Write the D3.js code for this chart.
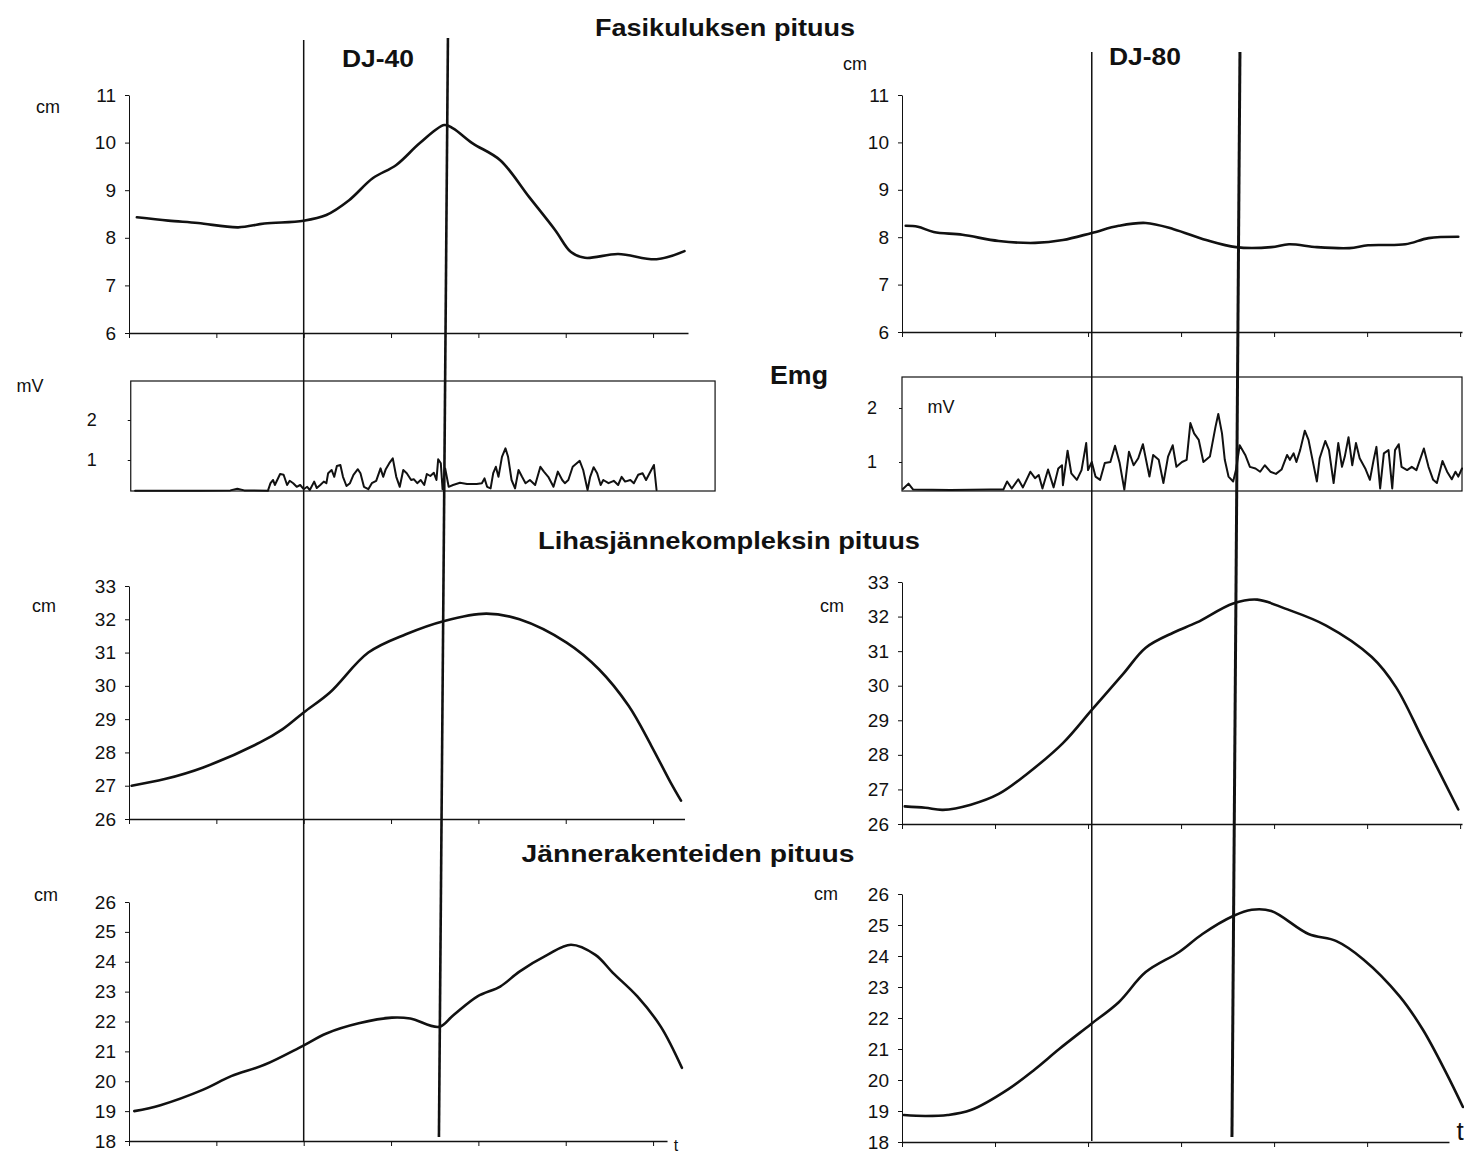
<!DOCTYPE html>
<html><head><meta charset="utf-8">
<script src="https://cdn.jsdelivr.net/npm/d3@7"></script>
<style>
body{margin:0;background:#fff}
svg{display:block;font-family:"Liberation Sans",Arial,sans-serif}
</style></head><body>
<svg id="c" width="1464" height="1153"></svg>
<script>
// ---------- data (time in tick units, lengths in cm, EMG in mV) ----------
const xTicks = [0, 1, 2, 3, 4, 5, 6];
const fasTicks = [6, 7, 8, 9, 10, 11];
const mtcTicks = [26, 27, 28, 29, 30, 31, 32, 33];
const tenTicks = [18, 19, 20, 21, 22, 23, 24, 25, 26];
const emgTicks = [1, 2];

const events40 = [2.0, 3.6];
const events80 = [2.04, 3.59];

const fas40 = [[0.09,8.43],[0.45,8.36],[0.79,8.31],[1.25,8.22],[1.55,8.30],[2.0,8.36],[2.26,8.48],[2.52,8.79],[2.79,9.25],[3.06,9.53],[3.33,9.99],[3.61,10.37],[3.71,10.30],[3.93,9.99],[4.25,9.63],[4.58,8.86],[4.88,8.16],[5.06,7.70],[5.22,7.58],[5.6,7.66],[6.04,7.55],[6.36,7.72]];
const fas80 = [[0.04,8.24],[0.17,8.22],[0.34,8.11],[0.65,8.05],[1.04,7.92],[1.43,7.88],[1.73,7.94],[2.04,8.09],[2.33,8.24],[2.62,8.30],[2.92,8.17],[3.27,7.94],[3.59,7.79],[3.97,7.79],[4.16,7.85],[4.46,7.79],[4.81,7.77],[5.01,7.83],[5.41,7.85],[5.66,7.98],[5.98,8.01]];

const mtc40 = [[0.03,27.0],[0.41,27.2],[0.85,27.55],[1.50,28.3],[1.76,28.7],[2.0,29.2],[2.30,29.8],[2.74,31.0],[3.17,31.55],[3.61,31.95],[4.09,32.17],[4.47,32.0],[5.01,31.3],[5.38,30.5],[5.72,29.4],[5.98,28.2],[6.20,27.1],[6.32,26.55]];
const mtc80 = [[0.03,26.51],[0.25,26.47],[0.44,26.41],[0.74,26.56],[1.04,26.87],[1.33,27.42],[1.73,28.34],[2.04,29.3],[2.38,30.35],[2.62,31.1],[2.92,31.54],[3.17,31.83],[3.56,32.38],[3.82,32.49],[4.12,32.23],[4.56,31.74],[5.05,30.83],[5.31,29.96],[5.60,28.44],[5.98,26.42]];

const ten40 = [[0.06,19.0],[0.36,19.2],[0.85,19.72],[1.17,20.17],[1.55,20.55],[1.98,21.17],[2.26,21.6],[2.63,21.94],[3.01,22.13],[3.22,22.1],[3.55,21.82],[3.71,22.2],[3.99,22.84],[4.25,23.17],[4.47,23.67],[4.79,24.23],[5.06,24.57],[5.34,24.23],[5.54,23.63],[5.82,22.84],[6.09,21.82],[6.33,20.45]];
const ten80 = [[0.02,18.87],[0.25,18.84],[0.49,18.87],[0.74,19.03],[1.14,19.7],[1.43,20.35],[1.69,21.0],[2.03,21.8],[2.33,22.51],[2.62,23.48],[2.98,24.13],[3.23,24.71],[3.56,25.29],[3.76,25.49],[3.97,25.45],[4.37,24.71],[4.67,24.48],[4.96,23.89],[5.35,22.7],[5.60,21.62],[5.85,20.23],[6.03,19.13]];

const emg40 = [[0.07,0.23],[0.81,0.23],[1.16,0.24],[1.24,0.28],[1.32,0.24],[1.59,0.23],[1.62,0.42],[1.65,0.50],[1.67,0.375],[1.73,0.65],[1.77,0.63],[1.81,0.375],[1.84,0.48],[1.88,0.42],[1.92,0.33],[1.96,0.375],[2.00,0.27],[2.04,0.33],[2.07,0.25],[2.12,0.46],[2.15,0.30],[2.19,0.375],[2.23,0.46],[2.26,0.42],[2.28,0.67],[2.32,0.75],[2.35,0.58],[2.38,0.85],[2.42,0.875],[2.45,0.58],[2.49,0.35],[2.53,0.42],[2.57,0.63],[2.62,0.77],[2.65,0.67],[2.69,0.33],[2.74,0.27],[2.78,0.42],[2.83,0.48],[2.88,0.79],[2.91,0.58],[2.94,0.77],[2.98,0.92],[3.02,1.04],[3.06,0.58],[3.10,0.33],[3.14,0.75],[3.18,0.67],[3.23,0.50],[3.26,0.52],[3.30,0.42],[3.34,0.50],[3.38,0.375],[3.41,0.65],[3.45,0.60],[3.49,0.68],[3.52,0.50],[3.54,1.02],[3.57,0.92],[3.59,0.27],[3.62,0.79],[3.66,0.33],[3.71,0.375],[3.79,0.43],[3.87,0.40],[3.98,0.40],[4.04,0.42],[4.07,0.54],[4.10,0.33],[4.14,0.29],[4.17,0.67],[4.20,0.83],[4.23,0.58],[4.27,1.08],[4.31,1.29],[4.34,1.08],[4.38,0.50],[4.42,0.29],[4.46,0.75],[4.50,0.58],[4.54,0.42],[4.59,0.50],[4.65,0.375],[4.71,0.83],[4.75,0.71],[4.80,0.58],[4.86,0.33],[4.91,0.71],[4.96,0.50],[4.99,0.42],[5.03,0.50],[5.08,0.83],[5.16,0.98],[5.20,0.75],[5.25,0.25],[5.28,0.58],[5.32,0.82],[5.36,0.67],[5.40,0.375],[5.43,0.50],[5.49,0.42],[5.55,0.48],[5.60,0.375],[5.64,0.58],[5.68,0.46],[5.74,0.50],[5.78,0.42],[5.83,0.63],[5.88,0.67],[5.92,0.50],[5.96,0.67],[6.01,0.875],[6.04,0.25]];
const emg80 = [[0.01,0.50],[0.07,0.60],[0.12,0.49],[0.52,0.48],[0.95,0.49],[1.09,0.49],[1.13,0.64],[1.18,0.51],[1.25,0.68],[1.30,0.53],[1.38,0.82],[1.43,0.70],[1.47,0.76],[1.51,0.51],[1.57,0.86],[1.63,0.53],[1.68,0.88],[1.72,0.94],[1.73,0.57],[1.78,1.21],[1.82,0.79],[1.88,0.67],[1.93,0.85],[1.98,1.35],[2.00,0.85],[2.04,1.0],[2.08,0.73],[2.13,0.67],[2.18,0.98],[2.24,1.0],[2.29,1.30],[2.34,0.98],[2.39,0.49],[2.44,1.19],[2.49,0.94],[2.54,1.07],[2.59,1.33],[2.66,0.73],[2.70,1.13],[2.76,1.04],[2.81,0.61],[2.86,1.10],[2.91,1.31],[2.95,0.91],[3.01,1.0],[3.06,1.04],[3.10,1.72],[3.14,1.53],[3.19,1.41],[3.24,1.0],[3.31,1.10],[3.37,1.65],[3.40,1.89],[3.44,1.53],[3.47,1.04],[3.51,0.73],[3.56,0.64],[3.59,0.85],[3.63,1.31],[3.69,1.13],[3.74,0.91],[3.80,0.88],[3.85,0.82],[3.90,0.94],[3.96,0.82],[4.02,0.78],[4.08,0.86],[4.14,1.13],[4.17,1.04],[4.21,1.16],[4.24,1.0],[4.28,1.22],[4.33,1.58],[4.37,1.41],[4.42,0.98],[4.46,0.64],[4.49,1.07],[4.55,1.39],[4.59,1.22],[4.64,0.61],[4.69,1.35],[4.73,0.91],[4.76,1.10],[4.80,1.46],[4.84,0.94],[4.88,1.35],[4.92,1.07],[4.98,0.88],[5.03,0.67],[5.07,1.04],[5.10,1.28],[5.14,0.51],[5.18,1.16],[5.23,1.22],[5.27,0.51],[5.30,1.22],[5.34,1.33],[5.37,0.91],[5.43,0.85],[5.48,0.91],[5.53,0.85],[5.61,1.25],[5.66,0.91],[5.71,0.67],[5.75,0.61],[5.81,1.02],[5.86,0.82],[5.91,0.68],[5.95,0.82],[5.98,0.73],[6.02,0.88]];

const emgWindow40 = [0.02, 6.71];
const emgWindow80 = [0, 6.02];

// ---------- drawing ----------
const svg = d3.select("#c");
const INK = "#111";
const xL = d3.scaleLinear().domain([0, 6.4]).range([129, 688]);
const xR = d3.scaleLinear().domain([0, 6.02]).range([902, 1462]);

function xAxis(xs, end, y) {
  const s = xs.copy().domain([0, end]).range([xs(0), xs(end)]);
  const g = svg.append("g").attr("transform", `translate(0,${y})`)
    .call(d3.axisBottom(s).tickValues(xTicks.filter(t => t <= end + 1e-6)).tickSize(5).tickSizeOuter(0).tickFormat(""));
  g.select(".domain").attr("stroke", INK).attr("stroke-width", 1.6);
  g.selectAll(".tick line").attr("stroke", INK);
}
function yAxis(x, ys, ticks, pad, fs) {
  const g = svg.append("g").attr("transform", `translate(${x},0)`)
    .call(d3.axisLeft(ys).tickValues(ticks).tickSize(4).tickSizeOuter(0).tickPadding(pad).tickFormat(d3.format("d")));
  g.select(".domain").attr("stroke", INK).attr("stroke-width", 1);
  g.selectAll(".tick line").attr("stroke", INK);
  g.selectAll("text").attr("font-size", fs).attr("fill", INK)
    .attr("font-family", '"Liberation Sans", Arial, sans-serif');
  return g;
}
function curve(data, xs, ys, w, c) {
  svg.append("path").datum(data)
    .attr("fill", "none").attr("stroke", INK).attr("stroke-width", w)
    .attr("stroke-linejoin", "round").attr("stroke-linecap", "round")
    .attr("d", d3.line().x(d => xs(d[0])).y(d => ys(d[1])).curve(c)(data));
}
function label(txt, x, y, fs, bold, anchor, len) {
  const t = svg.append("text").attr("x", x).attr("y", y).attr("font-size", fs)
    .attr("font-weight", bold ? "bold" : "normal").attr("text-anchor", anchor || "middle")
    .attr("fill", INK).text(txt);
  if (len) t.attr("textLength", len).attr("lengthAdjust", "spacingAndGlyphs");
}

// Top: fascicle length
const yFasL = d3.scaleLinear().domain([6, 11]).range([333, 95]);
const yFasR = d3.scaleLinear().domain([6, 11]).range([332, 95]);
yAxis(xL(0), yFasL, fasTicks, 9, 19); xAxis(xL, 6.4, yFasL(6));
yAxis(xR(0), yFasR, fasTicks, 9, 19); xAxis(xR, 6.02, yFasR(6));
curve(fas40, xL, yFasL, 2.6, d3.curveCatmullRom);
curve(fas80, xR, yFasR, 2.6, d3.curveCatmullRom);

// EMG
const yEmgL = d3.scaleLinear().domain([0.225, 2.975]).range([491, 381]);
const yEmgR = d3.scaleLinear().domain([0.463, 2.574]).range([491, 377]);
[[xL, yEmgL, emgWindow40, 31], [xR, yEmgR, emgWindow80, 22]].forEach(([xs, ys, win, pad]) => {
  const d = ys.domain();
  svg.append("rect").attr("x", xs(win[0])).attr("y", ys(d[1]))
    .attr("width", xs(win[1]) - xs(win[0])).attr("height", ys(d[0]) - ys(d[1]))
    .attr("fill", "none").attr("stroke", INK).attr("stroke-width", 1.2);
  const g = svg.append("g").attr("transform", `translate(${xs(win[0])},0)`)
    .call(d3.axisLeft(ys).tickValues(emgTicks).tickSize(3).tickSizeOuter(0).tickPadding(pad).tickFormat(d3.format("d")));
  g.select(".domain").remove();
  g.selectAll(".tick line").attr("stroke", INK);
  g.selectAll("text").attr("font-size", 18).attr("fill", INK).attr("font-family", '"Liberation Sans", Arial, sans-serif');
});
curve(emg40, xL, yEmgL, 2, d3.curveLinear);
curve(emg80, xR, yEmgR, 2, d3.curveLinear);

// Middle: muscle-tendon complex
const yMtcL = d3.scaleLinear().domain([26, 33]).range([819, 586]);
const yMtcR = d3.scaleLinear().domain([26, 33]).range([824, 582]);
yAxis(xL(0), yMtcL, mtcTicks, 9, 19); xAxis(xL, 6.36, yMtcL(26));
yAxis(xR(0), yMtcR, mtcTicks, 9, 19); xAxis(xR, 6.02, yMtcR(26));
curve(mtc40, xL, yMtcL, 2.6, d3.curveCatmullRom);
curve(mtc80, xR, yMtcR, 2.6, d3.curveCatmullRom);

// Bottom: tendon structures
const yTenL = d3.scaleLinear().domain([18, 26]).range([1141, 902]);
const yTenR = d3.scaleLinear().domain([18, 26]).range([1142, 894]);
yAxis(xL(0), yTenL, tenTicks, 9, 19); xAxis(xL, 6.16, yTenL(18));
yAxis(xR(0), yTenR, tenTicks, 9, 19); xAxis(xR, 5.88, yTenR(18));
curve(ten40, xL, yTenL, 2.6, d3.curveCatmullRom);
curve(ten80, xR, yTenR, 2.6, d3.curveCatmullRom);

// Event markers (hand-drawn vertical lines)
function marker(xs, t, yTop, yBot, w, lean) {
  svg.append("line").attr("x1", xs(t) + lean).attr("x2", xs(t) - lean)
    .attr("y1", yTop).attr("y2", yBot).attr("stroke", INK).attr("stroke-width", w);
}
marker(xL, events40[0], 40, 1141, 1.5, 0);
marker(xL, events40[1], 38, 1137, 2.6, 4.5);
marker(xR, events80[0], 52, 1141, 1.5, 0);
marker(xR, events80[1], 52, 1137, 3, 4);

// Texts
label("Fasikuluksen pituus", 725, 36, 24, true, "middle", 260);
label("DJ-40", 378, 67, 24, true, "middle", 72);
label("DJ-80", 1145, 65, 24, true, "middle", 72);
label("Emg", 799, 384, 25, true, "middle", 58);
label("Lihasjännekompleksin pituus", 729, 549, 24, true, "middle", 382);
label("Jännerakenteiden pituus", 688, 862, 24, true, "middle", 333);
label("cm", 48, 113, 18, false);
label("cm", 855, 70, 18, false);
label("cm", 44, 612, 18, false);
label("cm", 832, 612, 18, false);
label("cm", 46, 901, 18, false);
label("cm", 826, 900, 18, false);
label("mV", 30, 392, 18, false);
label("mV", 941, 413, 18, false);
label("t", 676, 1151, 16, false);
label("t", 1460, 1140, 26, false);
</script>
</body></html>
